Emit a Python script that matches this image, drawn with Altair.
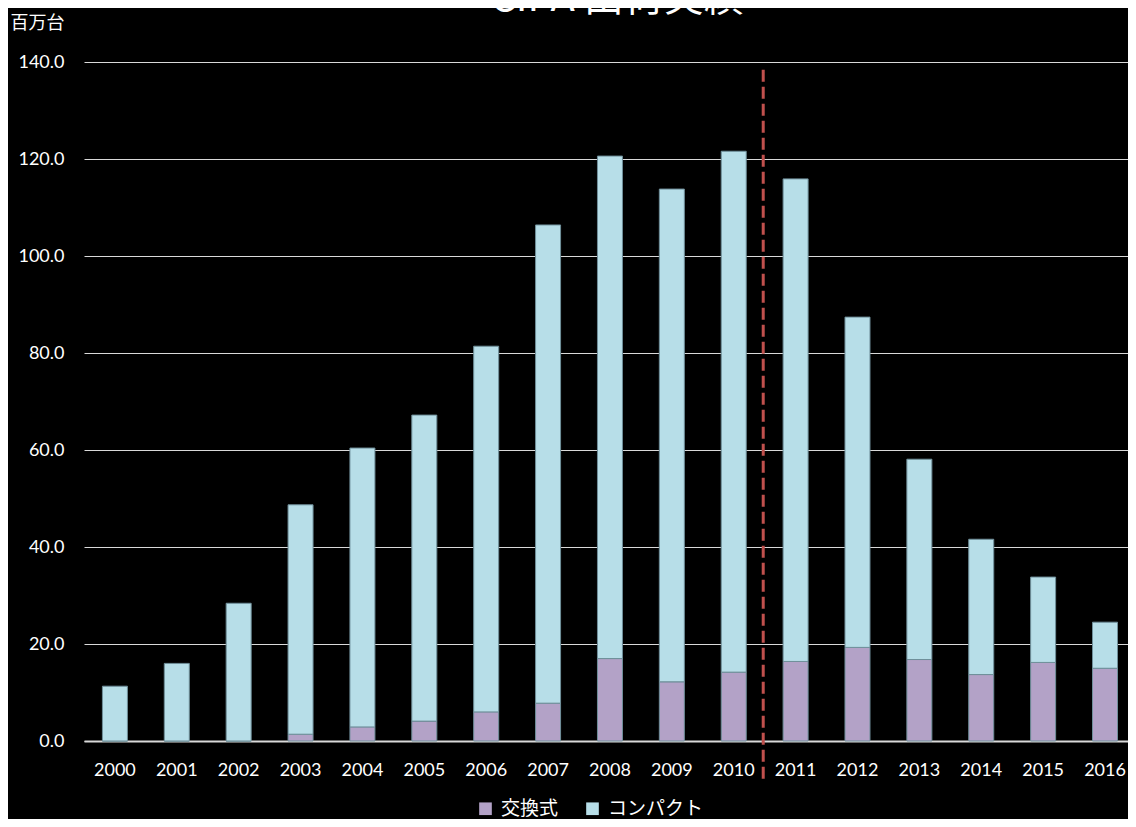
import altair as alt
import pandas as pd

years = [str(y) for y in range(2000, 2017)]
series_names = ["交換式", "コンパクト"]
interchangeable = [0.0, 0.0, 0.0, 1.4, 2.9, 4.1, 6.0, 7.8, 17.0, 12.2, 14.2, 16.4, 19.3, 16.8, 13.7, 16.2, 15.0]
compact = [11.3, 16.0, 28.4, 47.3, 57.5, 63.1, 75.4, 98.6, 103.6, 101.6, 107.4, 99.5, 68.1, 41.3, 27.9, 17.6, 9.5]
y_ticks = [0, 20, 40, 60, 80, 100, 120, 140]
divider_year = ["2010"]
divider_top = [138.4]
divider_bottom = [-8.0]
title_text = ["CIPA 出荷実績"]
colors = ["#B3A2C7", "#B7DEE8"]

rows = []
for i, y in enumerate(years):
    rows.append({"year": y, "series": series_names[0], "value": interchangeable[i], "order": 0})
    rows.append({"year": y, "series": series_names[1], "value": compact[i], "order": 1})
df = pd.DataFrame(rows)

bars = alt.Chart(df).mark_bar(stroke="#6f8f9a", strokeWidth=1).encode(
    x=alt.X("year:N", sort=years,
            scale=alt.Scale(paddingInner=0.596, paddingOuter=0.2335, align=0.637),
            axis=alt.Axis(title=None, labelAngle=0, ticks=False, tickSize=0,
                          domain=True, domainColor="#d9d9d9", domainWidth=2,
                          labelColor="white", labelFont="Lato", labelFontSize=18,
                          labelPadding=29, labelBaseline="middle", grid=False)),
    y=alt.Y("value:Q", stack="zero",
            scale=alt.Scale(domain=[0, 140], nice=False),
            axis=alt.Axis(values=y_ticks, format=".1f", grid=True, gridColor="#d9d9d9",
                          gridWidth=1, domain=False, ticks=False, tickSize=0,
                          labelColor="white", labelFont="Lato", labelFontSize=18,
                          labelPadding=20,
                          title="百万台", titleAngle=0, titleAlign="left",
                          titleBaseline="middle", titleX=-74, titleY=-39,
                          titleColor="white", titleFont="Noto Sans CJK JP",
                          titleFontSize=18, titleFontWeight="normal")),
    color=alt.Color("series:N",
                    scale=alt.Scale(domain=series_names, range=colors),
                    legend=alt.Legend(title=None, orient="none", legendX=392, legendY=737,
                                      direction="horizontal", symbolType="square",
                                      symbolSize=160, symbolStrokeWidth=0,
                                      labelColor="white", labelFont="Noto Sans CJK JP",
                                      labelFontSize=19, labelOffset=6,
                                      columnPadding=24, padding=0)),
    order=alt.Order("order:Q"),
)

div_df = pd.DataFrame({"year": divider_year, "top": divider_top, "bottom": divider_bottom})
divider = alt.Chart(div_df).mark_rule(
    color="#C0504D", strokeWidth=3, strokeDash=[12, 5], xOffset=17, clip=False
).encode(
    x=alt.X("year:N", bandPosition=1),
    y=alt.Y("top:Q"),
    y2=alt.Y2("bottom:Q"),
)

title_df = pd.DataFrame({"t": title_text})
title = alt.Chart(title_df).mark_text(
    fontSize=40, font="Noto Sans CJK JP", color="white",
    baseline="alphabetic", align="center"
).encode(text="t:N", x=alt.value(533), y=alt.value(-51))

chart = alt.layer(bars, divider, title).properties(
    width=1044,
    height=679,
    padding={"left": 76, "top": 54, "right": 0, "bottom": 78},
    autosize=alt.AutoSizeParams(type="none"),
    background="#000000",
).configure_view(stroke=None)

chart.save("out.html", embed_options={"renderer": "svg", "actions": False})
